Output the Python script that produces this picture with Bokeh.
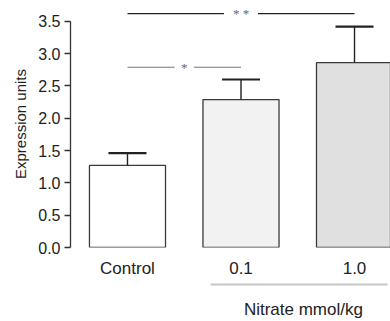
from bokeh.plotting import figure
from bokeh.models import (ColumnDataSource, FixedTicker, LinearAxis, Range1d,
                          NumeralTickFormatter)
from bokeh.embed import file_html
from bokeh.resources import INLINE

# Expression by treatment group
groups = ["Control", "0.1", "1.0"]
means = [1.27, 2.29, 2.86]
upper_err = [1.46, 2.60, 3.42]
fills = ["#ffffff", "#f2f2f2", "#e0e0e0"]

# Pairwise comparisons: (from group, to group, stars, bracket height)
cmp_from = [0, 0]
cmp_to = [1, 2]
cmp_stars = ["*", "* *"]
cmp_level = [2.79, 3.62]
cmp_colors = ["#777777", "#222222"]
cmp_gap = [0.085, 0.15]

y_ticks = [0.0, 0.5, 1.0, 1.5, 2.0, 2.5, 3.0, 3.5]
group_title = "Nitrate mmol/kg"
group_span = (0.73, 2.29)
group_center = 1.55

FONT = "Liberation Sans"
xs = list(range(len(groups)))

p = figure(width=390, height=321, output_backend="svg", toolbar_location=None,
           x_range=Range1d(-0.502, 2.317), y_range=Range1d(0, 3.823),
           min_border_left=70, min_border_right=0, min_border_top=0,
           min_border_bottom=74, x_axis_type=None)
p.outline_line_color = None
p.grid.visible = False
p.background_fill_color = "white"
p.border_fill_color = "white"

bars = ColumnDataSource(dict(x=xs, top=means, err=upper_err, fill=fills))
p.vbar(x="x", top="top", bottom=0, width=0.67, source=bars,
       fill_color="fill", line_color="#3a3a3a", line_width=1.3)

# upper error bars with caps
p.segment(x0="x", y0="top", x1="x", y1="err", source=bars,
          line_color="#222222", line_width=1.4)
cap = 0.335 / 2
p.segment(x0=[x - cap for x in xs], y0=upper_err, x1=[x + cap for x in xs],
          y1=upper_err, line_color="#222222", line_width=2.2)

# significance brackets with a gap for the stars
for a, b, s, lvl, col, g in zip(cmp_from, cmp_to, cmp_stars, cmp_level,
                               cmp_colors, cmp_gap):
    mid = (a + b) / 2
    p.segment(x0=[a, mid + g], y0=[lvl, lvl], x1=[mid - g, b], y1=[lvl, lvl],
              line_color=col, line_width=1.2)
    p.text(x=[mid], y=[lvl], text=[s], text_align="center",
           text_baseline="middle", text_color="#666666",
           text_font_size="13px", text_font=FONT)

# y axis
yax = p.yaxis[0]
yax.ticker = FixedTicker(ticks=y_ticks)
yax.formatter = NumeralTickFormatter(format="0.0")
yax.bounds = (0, 3.5)
yax.minor_tick_line_color = None
yax.major_tick_in = 0
yax.major_tick_out = 6
yax.axis_line_color = "#333333"
yax.major_tick_line_color = "#333333"
yax.axis_line_width = 1.3
yax.major_tick_line_width = 1.3
yax.major_label_standoff = 4
yax.major_label_text_font = FONT
yax.major_label_text_font_size = "16px"
yax.major_label_text_color = "#222222"
yax.axis_label = "Expression units"
yax.axis_label_text_font = FONT
yax.axis_label_text_font_size = "15px"
yax.axis_label_text_font_style = "normal"
yax.axis_label_text_color = "#222222"
yax.axis_label_standoff = 6

# category labels
xax = LinearAxis(ticker=FixedTicker(ticks=xs),
                 major_label_overrides={i: g for i, g in zip(xs, groups)})
xax.axis_line_color = None
xax.major_tick_line_color = None
xax.minor_tick_line_color = None
xax.major_tick_out = 0
xax.major_tick_in = 0
xax.major_label_standoff = 11
xax.major_label_text_font = FONT
xax.major_label_text_font_size = "17px"
xax.major_label_text_color = "#222222"
xax.axis_label = "\u00a0"
xax.axis_label_text_font_size = "1px"
xax.axis_label_standoff = 0
p.add_layout(xax, "below")

# dose group label with its rule
gax = LinearAxis(ticker=FixedTicker(ticks=[group_center]),
                 major_label_overrides={group_center: group_title})
gax.bounds = group_span
gax.axis_line_color = "#c8c8c8"
gax.axis_line_width = 2
gax.major_tick_line_color = None
gax.minor_tick_line_color = None
gax.major_tick_out = 0
gax.major_tick_in = 0
gax.major_label_standoff = 15
gax.major_label_text_font = FONT
gax.major_label_text_font_size = "17px"
gax.major_label_text_color = "#222222"
p.add_layout(gax, "below")

open("out.html", "w").write(file_html(p, INLINE))
